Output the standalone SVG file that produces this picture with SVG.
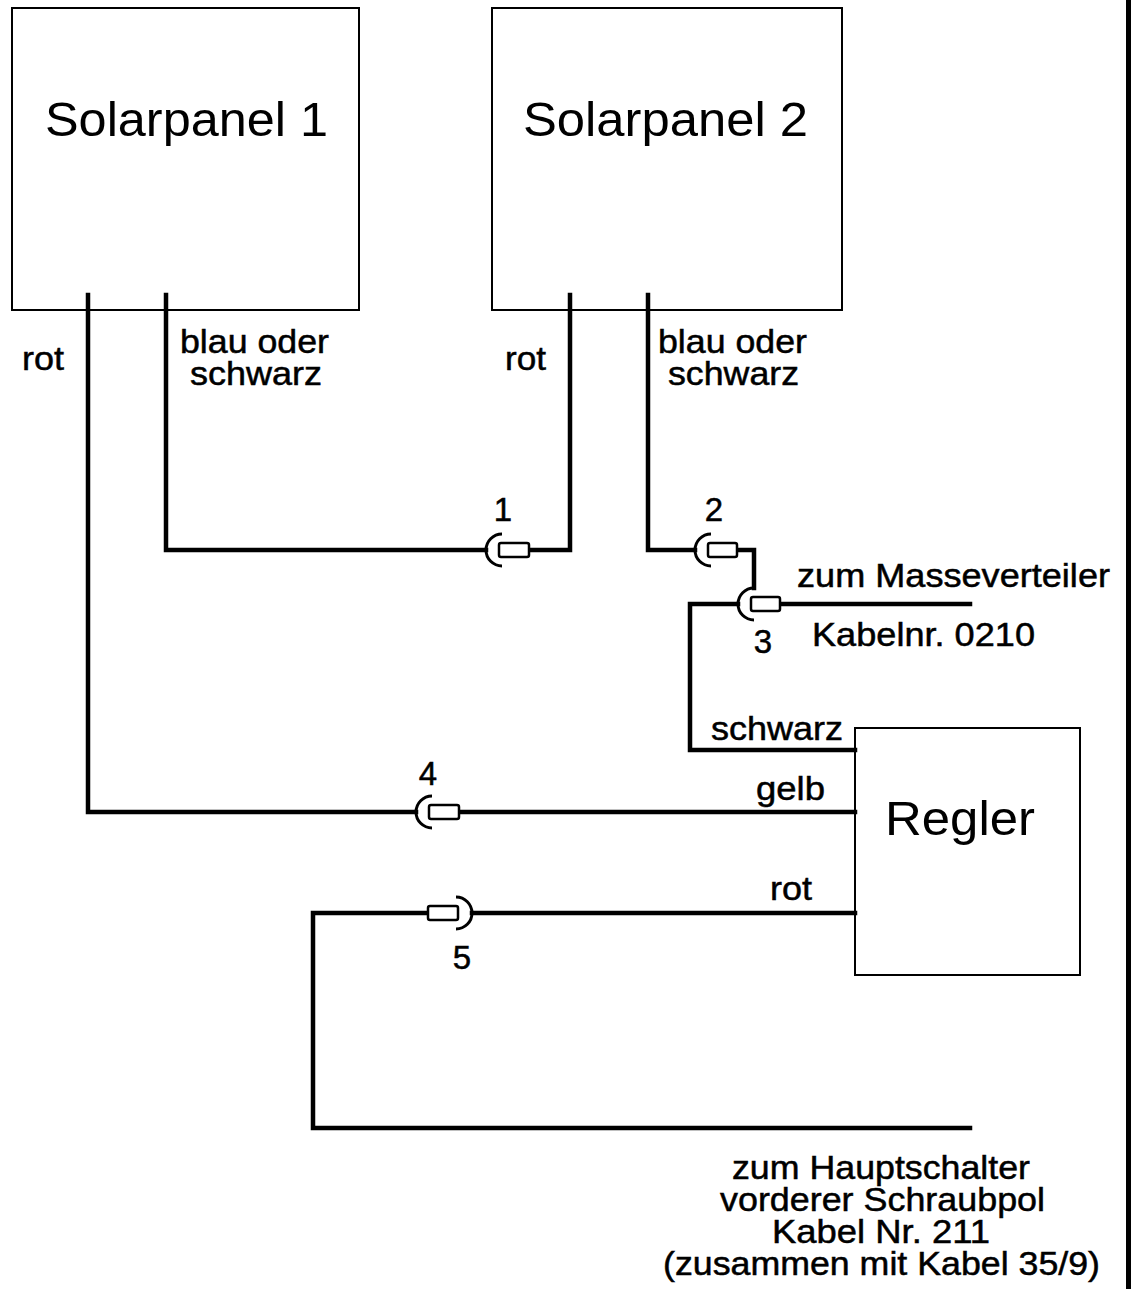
<svg xmlns="http://www.w3.org/2000/svg" width="1131" height="1289" viewBox="0 0 1131 1289">
<style>
.box{fill:#fff;stroke:#000;stroke-width:2}
.w{fill:none;stroke:#000;stroke-width:4.5;stroke-linejoin:miter;stroke-linecap:square}
.arc{fill:none;stroke:#000;stroke-width:3}
.plug{fill:#fff;stroke:#000;stroke-width:2.5}
text{font-family:"Liberation Sans",Arial,sans-serif;fill:#000}
.big{font-size:49px}
.sm{font-size:33px;stroke:#000;stroke-width:0.5}
.mid{text-anchor:middle}
</style>
<rect width="1131" height="1289" fill="#fff"/>
<rect x="1126" y="0" width="5" height="1289" fill="#000"/>
<g id="solarpanel1">
<rect class="box" x="12" y="8" width="347" height="302"/>
<text class="big" x="45" y="136" textLength="283" lengthAdjust="spacingAndGlyphs">Solarpanel 1</text>
</g>
<g id="solarpanel2">
<rect class="box" x="492" y="8" width="350" height="302"/>
<text class="big" x="523" y="136" textLength="285" lengthAdjust="spacingAndGlyphs">Solarpanel 2</text>
</g>
<g id="regler">
<rect class="box" x="855" y="728" width="225" height="247"/>
<text class="big" x="885" y="835" textLength="150" lengthAdjust="spacingAndGlyphs">Regler</text>
</g>
<g id="connectors">
<polyline class="w" points="88,295 88,812 416,812"/>
<polyline class="w" points="166,295 166,550 486,550"/>
<polyline class="w" points="529,550 570,550 570,295"/>
<polyline class="w" points="648,295 648,550 695,550"/>
<polyline class="w" points="737,550 754,550 754,588"/>
<polyline class="w" points="738,604 690,604 690,750 855,750"/>
<line class="w" x1="780" y1="604" x2="970" y2="604"/>
<line class="w" x1="459" y1="812" x2="855" y2="812"/>
<polyline class="w" points="428,913 313,913 313,1128 970,1128"/>
<line class="w" x1="472" y1="913" x2="855" y2="913"/>
</g>
<g id="plug1">
<path class="arc" d="M502,534 A16,16 0 0 0 502,566"/>
<rect class="plug" x="499" y="543" width="30" height="14" rx="2"/>
</g>
<g id="plug2">
<path class="arc" d="M711,534 A16,16 0 0 0 711,566"/>
<rect class="plug" x="708" y="543" width="29" height="14" rx="2"/>
</g>
<g id="plug3">
<path class="arc" d="M754,588 A16,16 0 0 0 754,620"/>
<rect class="plug" x="751" y="597" width="29" height="14" rx="2"/>
</g>
<g id="plug4">
<path class="arc" d="M432,796 A16,16 0 0 0 432,828"/>
<rect class="plug" x="429" y="805" width="30" height="14" rx="2"/>
</g>
<g id="plug5">
<path class="arc" d="M456,897 A16,16 0 0 1 456,929"/>
<rect class="plug" x="428" y="906" width="30" height="14" rx="2"/>
</g>
<g id="labels">
<text class="sm" x="22" y="370" textLength="42" lengthAdjust="spacingAndGlyphs">rot</text>
<text class="sm" x="180" y="353" textLength="149" lengthAdjust="spacingAndGlyphs">blau oder</text>
<text class="sm" x="190" y="385" textLength="132" lengthAdjust="spacingAndGlyphs">schwarz</text>
<text class="sm" x="505" y="370" textLength="41" lengthAdjust="spacingAndGlyphs">rot</text>
<text class="sm" x="658" y="353" textLength="149" lengthAdjust="spacingAndGlyphs">blau oder</text>
<text class="sm" x="668" y="385" textLength="131" lengthAdjust="spacingAndGlyphs">schwarz</text>
<text class="sm mid" x="503" y="521">1</text>
<text class="sm mid" x="714" y="521">2</text>
<text class="sm mid" x="763" y="653">3</text>
<text class="sm mid" x="428" y="785">4</text>
<text class="sm mid" x="462" y="969">5</text>
<text class="sm" x="797" y="587" textLength="313" lengthAdjust="spacingAndGlyphs">zum Masseverteiler</text>
<text class="sm" x="812" y="646" textLength="223" lengthAdjust="spacingAndGlyphs">Kabelnr. 0210</text>
<text class="sm" x="711" y="740" textLength="132" lengthAdjust="spacingAndGlyphs">schwarz</text>
<text class="sm" x="756" y="800" textLength="69" lengthAdjust="spacingAndGlyphs">gelb</text>
<text class="sm" x="770" y="900" textLength="42" lengthAdjust="spacingAndGlyphs">rot</text>
<text class="sm" x="732" y="1179" textLength="298" lengthAdjust="spacingAndGlyphs">zum Hauptschalter</text>
<text class="sm" x="720" y="1211" textLength="325" lengthAdjust="spacingAndGlyphs">vorderer Schraubpol</text>
<text class="sm" x="772" y="1243" textLength="218" lengthAdjust="spacingAndGlyphs">Kabel Nr. 211</text>
<text class="sm" x="663" y="1275" textLength="437" lengthAdjust="spacingAndGlyphs">(zusammen mit Kabel 35/9)</text>
</g>
</svg>
